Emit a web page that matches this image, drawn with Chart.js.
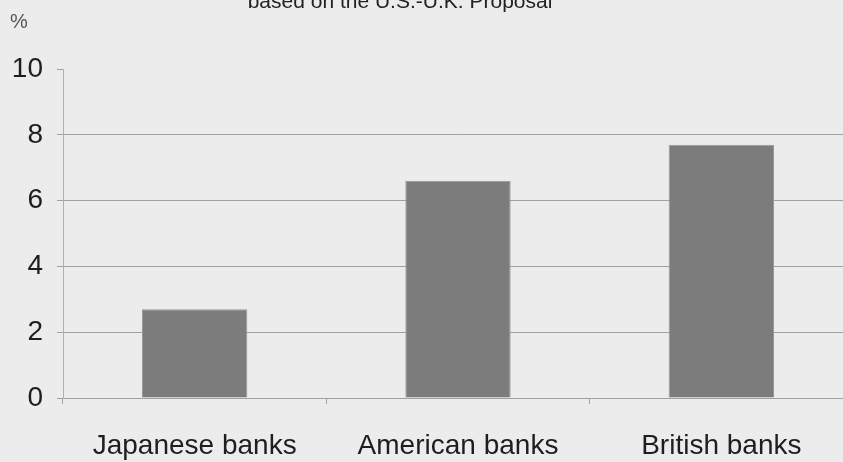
<!DOCTYPE html>
<html>
<head>
<meta charset="utf-8">
<script src="https://cdn.jsdelivr.net/npm/chart.js@4/dist/chart.umd.min.js"></script>
<style>
  html, body { margin: 0; padding: 0; background: #ececec; overflow: hidden; }
  canvas { display: block; }
</style>
</head>
<body>
<canvas id="ratioChart" width="853" height="462"></canvas>
<script>
const banks = ['Japanese banks', 'American banks', 'British banks'];
const ratios = [2.7, 6.6, 7.7];
const yTicks = [0, 2, 4, 6, 8, 10];
const titleText = 'based on the U.S.-U.K. Proposal';
const unitText = '%';

const font = "'Liberation Sans', Arial, sans-serif";

// title sits half off the top edge, unit label at top-left
const headerText = {
  id: 'headerText',
  afterDraw(chart) {
    const ctx = chart.ctx;
    ctx.save();
    ctx.fillStyle = '#222';
    ctx.textAlign = 'center';
    ctx.textBaseline = 'alphabetic';
    ctx.font = '21px ' + font;
    ctx.fillText(titleText, 400, 8);
    ctx.fillStyle = '#555';
    ctx.textAlign = 'left';
    ctx.font = '20px ' + font;
    ctx.fillText(unitText, 10, 28);
    ctx.restore();
  }
};

new Chart(document.getElementById('ratioChart'), {
  type: 'bar',
  data: {
    labels: banks,
    datasets: [{
      data: ratios,
      backgroundColor: '#7c7c7c',
      borderColor: '#979797',
      borderWidth: 1,
      categoryPercentage: 1,
      barPercentage: 0.4
    }]
  },
  options: {
    responsive: false,
    animation: false,
    layout: { padding: { top: 69, left: 0, right: 0, bottom: 0 } },
    plugins: {
      legend: { display: false },
      tooltip: { enabled: false }
    },
    scales: {
      x: {
        grid: {
          drawOnChartArea: false,
          drawTicks: true,
          tickLength: 6,
          tickColor: '#a0a0a0'
        },
        border: { display: true, color: '#a0a0a0' },
        ticks: {
          color: '#1e1e1e',
          font: { family: font, size: 28 },
          padding: 25,
          maxRotation: 0
        },
        afterFit(scale) { scale.height = 64; }
      },
      y: {
        min: 0,
        max: 10,
        afterBuildTicks(scale) { scale.ticks = yTicks.map(v => ({ value: v })); },
        grid: {
          color: c => (c.tick && c.tick.value === 10) ? 'rgba(0,0,0,0)' : '#a0a0a0',
          tickColor: '#a0a0a0',
          tickLength: 6
        },
        border: { display: true, color: '#b0b0b0' },
        ticks: {
          color: '#1e1e1e',
          font: { family: font, size: 28 },
          padding: 14
        },
        afterFit(scale) { scale.width = 63; }
      }
    }
  },
  plugins: [headerText]
});
</script>
</body>
</html>
